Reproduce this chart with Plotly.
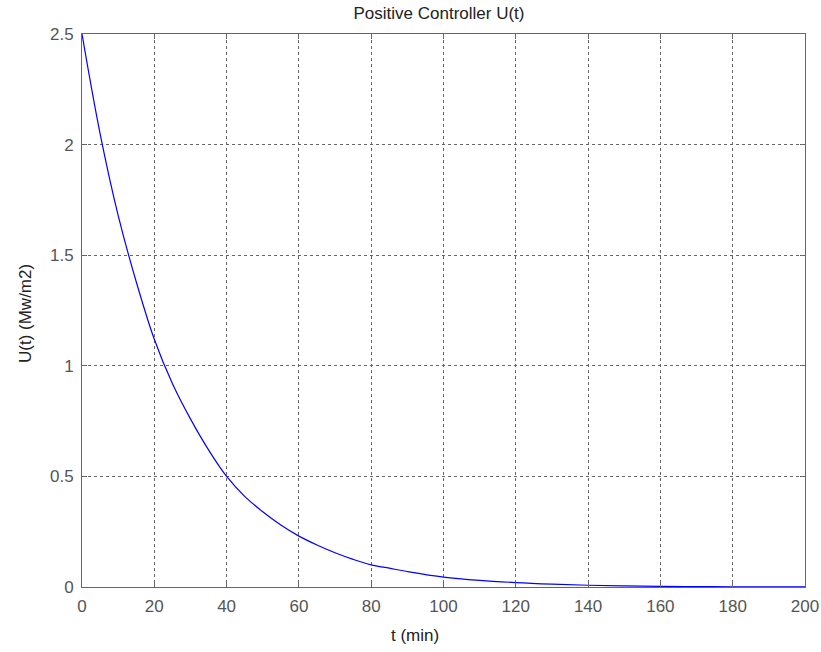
import plotly.graph_objects as go

t_min = [0, 5, 10, 15, 20, 25, 30, 35, 40, 45, 50, 55, 60, 65, 70, 75, 80, 85, 90,
         100, 110, 120, 130, 140, 150, 160, 170, 180, 190, 200]
u_vals = [2.50, 2.05, 1.68, 1.38, 1.12, 0.92, 0.76, 0.62, 0.50, 0.41, 0.34, 0.28, 0.23,
          0.19, 0.155, 0.125, 0.10, 0.085, 0.07, 0.045, 0.03, 0.02, 0.013, 0.008,
          0.005, 0.003, 0.002, 0.001, 0.0008, 0.0005]
x_ticks = [0, 20, 40, 60, 80, 100, 120, 140, 160, 180, 200]
y_ticks = [0, 0.5, 1, 1.5, 2, 2.5]
y_tick_text = ["0", "0.5", "1", "1.5", "2", "2.5"]

FONT = "Liberation Sans, Arial, sans-serif"

fig = go.Figure()
fig.add_trace(go.Scatter(x=t_min, y=u_vals, mode="lines",
                         line=dict(color="#0000ff", width=1.2, shape="spline"),
                         showlegend=False, cliponaxis=False))

axis_common = dict(showline=True, linecolor="#666666", linewidth=1, mirror="allticks",
                   ticks="inside", ticklen=5, tickcolor="#666666",
                   showgrid=True, gridcolor="#666666", griddash="3px,3px", gridwidth=1,
                   zeroline=False, automargin=False, ticklabelstandoff=4,
                   tickfont=dict(family=FONT, size=17, color="#555555"))

fig.update_layout(
    width=821, height=652,
    margin=dict(l=82, r=16, t=34, b=65, autoexpand=False),
    paper_bgcolor="white", plot_bgcolor="white",
    font=dict(family=FONT, size=17, color="#222222"),
    title=dict(text="Positive Controller U(t)", x=439 / 821, xanchor="center", xref="container",
               y=1 - 13 / 652, yanchor="middle", yref="container",
               font=dict(size=17, color="#222222")),
    xaxis=dict(range=[0, 200], tickvals=x_ticks, **axis_common),
    yaxis=dict(range=[0, 2.5], tickvals=y_ticks, ticktext=y_tick_text, **axis_common),
    annotations=[
        dict(text="t (min)", xref="paper", yref="paper",
             x=(415 - 82) / 723, y=-(635 - 587) / 553,
             xanchor="center", yanchor="middle", showarrow=False,
             font=dict(family=FONT, size=17, color="#222222")),
        dict(text="U(t) (Mw/m2)", xref="paper", yref="paper", textangle=-90,
             x=(25 - 82) / 723, y=(587 - 314) / 553,
             xanchor="center", yanchor="middle", showarrow=False,
             font=dict(family=FONT, size=17, color="#222222")),
    ],
)

fig.write_html("out.html", config={"displayModeBar": False},
               post_script="document.body.style.margin='0';")
